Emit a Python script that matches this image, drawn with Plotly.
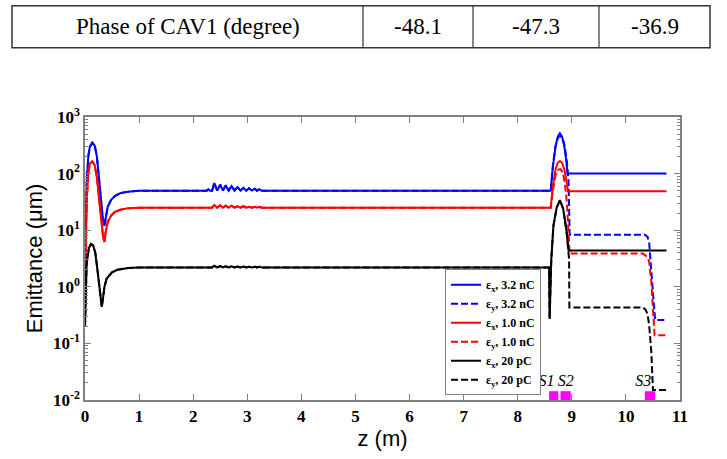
import plotly.graph_objects as go

# ---------------- data ----------------
table_label = "Phase of CAV1 (degree)"
table_values = ["-48.1", "-47.3", "-36.9"]

# 3.2 nC, common part (eps_x == eps_y) up to the end of the linac
zA_32 = [0, 0.01, 0.03, 0.06, 0.09, 0.135, 0.18, 0.22, 0.26, 0.30, 0.33, 0.357, 0.38, 0.42, 0.48,
         0.55, 0.65, 0.8, 1.0, 2.25, 2.28, 2.31, 2.35, 2.39, 2.445, 2.50, 2.55, 2.60, 2.655, 2.71,
         2.765, 2.82, 2.875, 2.93, 2.98, 3.03, 3.085, 3.14, 3.18, 3.22, 3.27, 8.58]
eA_32 = [1.0, 8, 60, 200, 300, 350, 310, 200, 80, 30, 16, 11.9, 17, 26, 34,
         40, 45, 48, 50, 50, 53, 50, 50, 68, 50, 64, 50, 62, 50, 60,
         50, 58, 50, 56, 50, 55, 50, 54, 50, 53, 50, 50]

zA_10 = [0, 0.01, 0.03, 0.06, 0.09, 0.135, 0.18, 0.22, 0.26, 0.30, 0.335, 0.36, 0.38, 0.42, 0.48,
         0.55, 0.65, 0.8, 1.0, 2.35, 2.39, 2.445, 2.50, 2.55, 2.60, 2.655, 2.71, 2.765, 2.82, 2.875,
         2.93, 2.98, 3.03, 3.085, 3.14, 3.18, 3.22, 3.27, 8.58]
eA_10 = [0.8, 5, 30, 100, 150, 164, 140, 85, 35, 14, 7.5, 6.2, 9, 14, 18,
         21, 23, 24.5, 25, 25, 28, 25, 27.5, 25, 27, 25, 27, 25, 26.5, 25,
         26.5, 25, 26, 25, 26, 25, 26, 25, 25]

zA_20 = [0, 0.01, 0.03, 0.07, 0.11, 0.15, 0.19, 0.23, 0.27, 0.31, 0.33, 0.36, 0.40, 0.5, 0.6,
         0.8, 1.0, 2.35, 2.39, 2.445, 2.50, 2.55, 2.60, 2.655, 2.71, 2.765, 2.82, 2.875, 2.93,
         2.98, 3.03, 3.085, 3.14, 3.18, 3.22, 3.27, 8.58]
eA_20 = [0.2, 0.8, 2.5, 4.8, 5.7, 5.4, 4.0, 2.0, 0.9, 0.44, 0.6, 1.0, 1.4, 1.8, 2.0,
         2.15, 2.2, 2.2, 2.35, 2.2, 2.32, 2.2, 2.3, 2.2, 2.3, 2.2, 2.28, 2.2, 2.28,
         2.2, 2.26, 2.2, 2.26, 2.2, 2.25, 2.2, 2.2]

# after the linac: separate x / y
zBx_32 = [8.61, 8.65, 8.70, 8.74, 8.78, 8.82, 8.86, 8.90, 8.92, 10.75]
eBx_32 = [50, 132, 306, 450, 515, 450, 306, 160, 100, 100]
zBy_32 = [8.61, 8.65, 8.70, 8.75, 8.79, 8.83, 8.87, 8.91, 8.94, 8.96, 10.35, 10.40, 10.43,
          10.47, 10.50, 10.54, 10.75]
eBy_32 = [50, 140, 310, 440, 460, 420, 300, 160, 70, 8.3, 8.3, 7.6, 6.0, 1.9, 0.8, 0.26, 0.26]

zBx_10 = [8.61, 8.65, 8.70, 8.74, 8.78, 8.82, 8.86, 8.90, 8.93, 10.75]
eBx_10 = [25, 60, 120, 155, 167, 155, 120, 75, 49, 49]
zBy_10 = [8.61, 8.65, 8.70, 8.75, 8.79, 8.83, 8.87, 8.91, 8.94, 8.96, 10.31, 10.36, 10.40,
          10.43, 10.47, 10.50, 10.53, 10.75]
eBy_10 = [25, 50, 95, 118, 120, 105, 70, 30, 10, 3.86, 3.86, 3.6, 3.2, 2.8, 1.2, 0.4, 0.14, 0.14]

zBx_20 = [8.585, 8.59, 8.62, 8.66, 8.72, 8.78, 8.84, 8.90, 8.94, 10.75]
eBx_20 = [0.27, 0.27, 3, 12, 25, 34, 24, 10, 4.4, 4.4]
zBy_20 = [8.585, 8.59, 8.62, 8.66, 8.72, 8.78, 8.84, 8.90, 8.95, 8.955, 10.31, 10.36, 10.40,
          10.43, 10.47, 10.50, 10.75]
eBy_20 = [0.27, 0.27, 3, 12, 25, 34, 24, 10, 3, 0.43, 0.43, 0.40, 0.33, 0.21, 0.07, 0.015, 0.015]

magnet_names = ["S1", "S2", "S3"]
magnet_start = [8.58, 8.79, 10.35]
magnet_end = [8.75, 8.98, 10.54]
magnet_low = 0.01
magnet_high = 0.0143
magnet_label_z = [8.53, 8.89, 10.32]
magnet_label_e = 0.0205

x_ticks = list(range(0, 12))
y_tickvals = [1e-2, 1e-1, 1e0, 1e1, 1e2, 1e3]
y_ticktext = ["10<sup>-2</sup>", "10<sup>-1</sup>", "10<sup>0</sup>",
              "10<sup>1</sup>", "10<sup>2</sup>", "10<sup>3</sup>"]

# ---------------- figure ----------------
W, H = 727, 459
L, R, T, B = 85, 47, 117, 52
PW, PH = W - L - R, H - T - B

def px2x(px):
    return (px - L) / PW

def py2y(py):
    return (T + PH - py) / PH

fig = go.Figure()

series = [
    ("ε<sub>x</sub>, 3.2 nC", zA_32 + zBx_32, eA_32 + eBx_32, "#0000ff", "solid"),
    ("ε<sub>y</sub>, 3.2 nC", zA_32 + zBy_32, eA_32 + eBy_32, "#0000ff", "7px,3px"),
    ("ε<sub>x</sub>, 1.0 nC", zA_10 + zBx_10, eA_10 + eBx_10, "#ff0000", "solid"),
    ("ε<sub>y</sub>, 1.0 nC", zA_10 + zBy_10, eA_10 + eBy_10, "#ff0000", "7px,3px"),
    ("ε<sub>x</sub>, 20 pC", zA_20 + zBx_20, eA_20 + eBx_20, "#000000", "solid"),
    ("ε<sub>y</sub>, 20 pC", zA_20 + zBy_20, eA_20 + eBy_20, "#000000", "7px,3px"),
]
for name, zz, ee, col, dash in series:
    fig.add_trace(go.Scatter(x=zz, y=ee, mode="lines", name=name,
                             line=dict(color=col, width=2, dash=dash)))

# magnets
for nm, a, b in zip(magnet_names, magnet_start, magnet_end):
    fig.add_trace(go.Scatter(x=[a, b, b, a, a],
                             y=[magnet_low, magnet_low, magnet_high, magnet_high, magnet_low],
                             mode="lines", fill="toself", fillcolor="#ff00ff",
                             line=dict(color="#ff00ff", width=0), showlegend=False,
                             hoverinfo="skip"))
fig.add_trace(go.Scatter(x=magnet_label_z, y=[magnet_label_e] * len(magnet_names),
                         mode="text", text=["<i>%s</i>" % n for n in magnet_names],
                         textfont=dict(family="Liberation Serif", size=16, color="black"),
                         showlegend=False, hoverinfo="skip"))

# table
shapes = []
tx0, tx1, ty0, ty1 = 12, 710, 3, 46
dividers = [363, 473, 599]
shapes.append(dict(type="rect", xref="paper", yref="paper",
                   x0=px2x(tx0), x1=px2x(tx1), y0=py2y(ty1), y1=py2y(ty0),
                   line=dict(color="#333333", width=1.5)))
for d in dividers:
    shapes.append(dict(type="line", xref="paper", yref="paper",
                       x0=px2x(d), x1=px2x(d), y0=py2y(ty1), y1=py2y(ty0),
                       line=dict(color="#333333", width=1.2)))
annotations = []
edges = [tx0] + dividers + [tx1]
cells = [table_label] + table_values
for i, txt in enumerate(cells):
    cx = (edges[i] + edges[i + 1]) / 2
    annotations.append(dict(x=px2x(cx), y=py2y((ty0 + ty1) / 2), xref="paper", yref="paper",
                            text=txt, showarrow=False, xanchor="center", yanchor="middle",
                            font=dict(family="Liberation Serif", size=23, color="black")))

fig.update_layout(
    width=W, height=H,
    margin=dict(l=L, r=R, t=T, b=B),
    paper_bgcolor="white", plot_bgcolor="white",
    shapes=shapes, annotations=annotations,
    showlegend=True,
    legend=dict(x=px2x(445), y=py2y(273), xanchor="left", yanchor="top",
                bgcolor="white", bordercolor="#808080", borderwidth=1,
                font=dict(family="Liberation Serif", size=12, color="black", weight="bold"),
                itemwidth=30, tracegroupgap=0),
)

fig.update_xaxes(
    range=[0, 11], tickvals=x_ticks, ticks="inside", ticklen=6, tickwidth=1,
    tickcolor="#808080", showline=True, linecolor="#808080", linewidth=1.5,
    mirror="ticks", showgrid=False, zeroline=False,
    tickfont=dict(family="Liberation Serif", size=17, color="black", weight="bold"),
    title=dict(text="z (m)", font=dict(family="Liberation Sans", size=22, color="black"),
               standoff=5),
)
minor_vals = [m * 10 ** p for p in range(-2, 3) for m in range(2, 10)]
fig.update_yaxes(
    type="log", range=[-2, 3], tickvals=y_tickvals, ticktext=y_ticktext,
    ticks="inside", ticklen=6, tickwidth=1, tickcolor="#808080",
    minor=dict(tickvals=minor_vals, ticks="inside", ticklen=3, tickcolor="#808080",
               showgrid=False),
    showline=True, linecolor="#808080", linewidth=1.5, mirror="allticks",
    showgrid=False, zeroline=False,
    tickfont=dict(family="Liberation Serif", size=17, color="black", weight="bold"),
    title=dict(text="Emittance (μm)", font=dict(family="Liberation Sans", size=22, color="black"),
               standoff=4),
)

fig.write_html("out.html")
